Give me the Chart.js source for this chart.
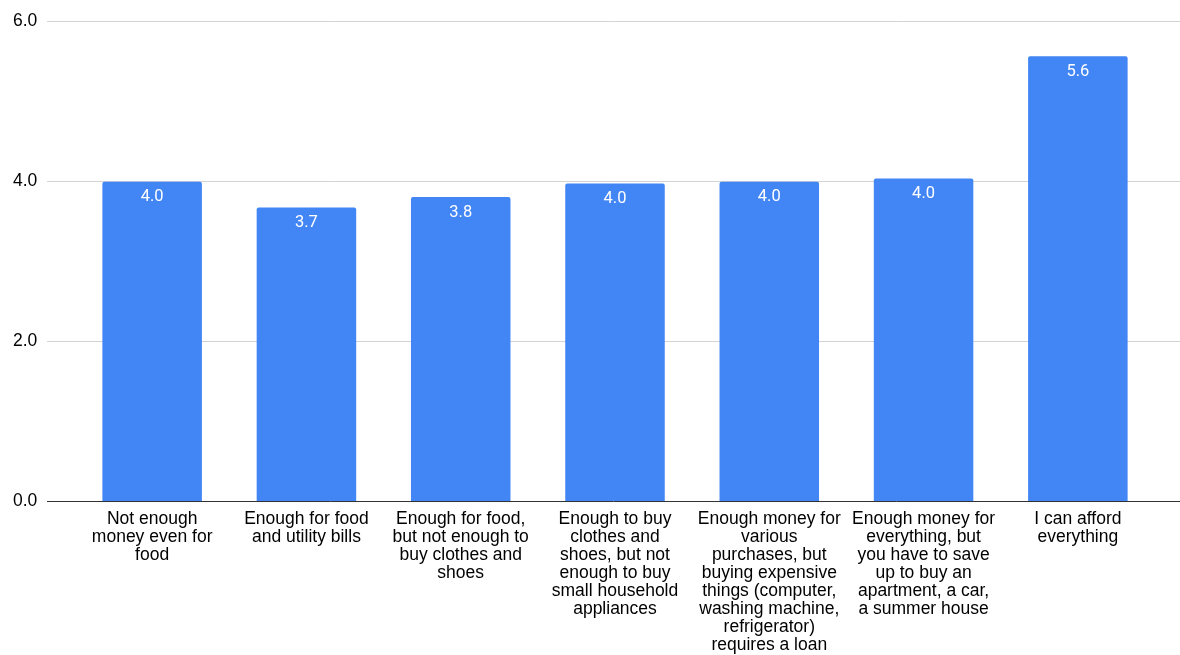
<!DOCTYPE html>
<html>
<head>
<meta charset="utf-8">
<script src="https://cdn.jsdelivr.net/npm/chart.js@4/dist/chart.umd.min.js"></script>
<style>
  html, body { margin: 0; padding: 0; background: #fff; }
  #wrap { width: 1180px; height: 655px; }
</style>
</head>
<body>
<div id="wrap"><canvas id="budgetChart"></canvas></div>
<script>
// Income level categories, each wrapped into label lines
const categories = [
    ['Not enough', 'money even for', 'food'],
    ['Enough for food', 'and utility bills'],
    ['Enough for food,', 'but not enough to', 'buy clothes and', 'shoes'],
    ['Enough to buy', 'clothes and', 'shoes, but not', 'enough to buy', 'small household', 'appliances'],
    ['Enough money for', 'various', 'purchases, but', 'buying expensive', 'things (computer,', 'washing machine,', 'refrigerator)', 'requires a loan'],
    ['Enough money for', 'everything, but', 'you have to save', 'up to buy an', 'apartment, a car,', 'a summer house'],
    ['I can afford', 'everything']
];

const scores = [3.99, 3.67, 3.80, 3.97, 3.99, 4.03, 5.56];

const yTicks = [0, 2, 4, 6];

const barBlue = '#4285F4';
const labelFont = '"Liberation Sans", Arial, sans-serif';

// horizontal grid lines run wider than the category area
const wideGrid = {
    id: 'wideGrid',
    beforeDatasetsDraw(chart) {
        const ctx = chart.ctx;
        const y = chart.scales.y;
        const x0 = chart.chartArea.left - 28;
        const x1 = chart.width;
        ctx.save();
        ctx.lineWidth = 1;
        yTicks.forEach(t => {
            const py = Math.round(y.getPixelForValue(t)) + 0.5;
            ctx.strokeStyle = t === 0 ? '#333333' : '#d3d3d3';
            ctx.beginPath();
            ctx.moveTo(x0, py);
            ctx.lineTo(x1, py);
            ctx.stroke();
        });
        ctx.restore();
    }
};

// value printed inside the top of every bar
const barValues = {
    id: 'barValues',
    afterDatasetsDraw(chart) {
        const ctx = chart.ctx;
        const meta = chart.getDatasetMeta(0);
        ctx.save();
        ctx.fillStyle = '#ffffff';
        ctx.font = '16.5px Roboto, "Liberation Sans", Arial, sans-serif';
        ctx.textAlign = 'center';
        ctx.textBaseline = 'middle';
        meta.data.forEach((bar, i) => {
            ctx.fillText(scores[i].toFixed(1), bar.x, bar.y + 15.5);
        });
        ctx.restore();
    }
};

new Chart(document.getElementById('budgetChart'), {
    type: 'bar',
    data: {
        labels: categories,
        datasets: [{
            data: scores,
            backgroundColor: barBlue,
            borderRadius: { topLeft: 2, topRight: 2, bottomLeft: 0, bottomRight: 0 },
            borderSkipped: false,
            barPercentage: 0.645,
            categoryPercentage: 1
        }]
    },
    options: {
        responsive: true,
        maintainAspectRatio: false,
        animation: false,
        layout: { padding: { left: 13, right: 25, top: 21, bottom: 0 } },
        plugins: {
            legend: { display: false },
            tooltip: { enabled: false }
        },
        scales: {
            x: {
                afterFit(scale) {
                    scale.height = 154;
                },
                grid: { display: false, drawTicks: false },
                border: { display: false },
                ticks: {
                    color: '#000',
                    font: { family: labelFont, size: 17.5, lineHeight: 1.03 },
                    padding: 9,
                    maxRotation: 0,
                    autoSkip: false
                }
            },
            y: {
                min: 0,
                max: 6,
                afterBuildTicks(scale) {
                    scale.ticks = yTicks.map(v => ({ value: v }));
                },
                afterFit(scale) {
                    scale.width = 62;
                },
                grid: { display: false, drawTicks: false },
                border: { display: false },
                ticks: {
                    color: '#000',
                    font: { family: labelFont, size: 17.5 },
                    padding: 0,
                    crossAlign: 'far',
                    callback: v => v.toFixed(1)
                }
            }
        }
    },
    plugins: [wideGrid, barValues]
});
</script>
</body>
</html>
